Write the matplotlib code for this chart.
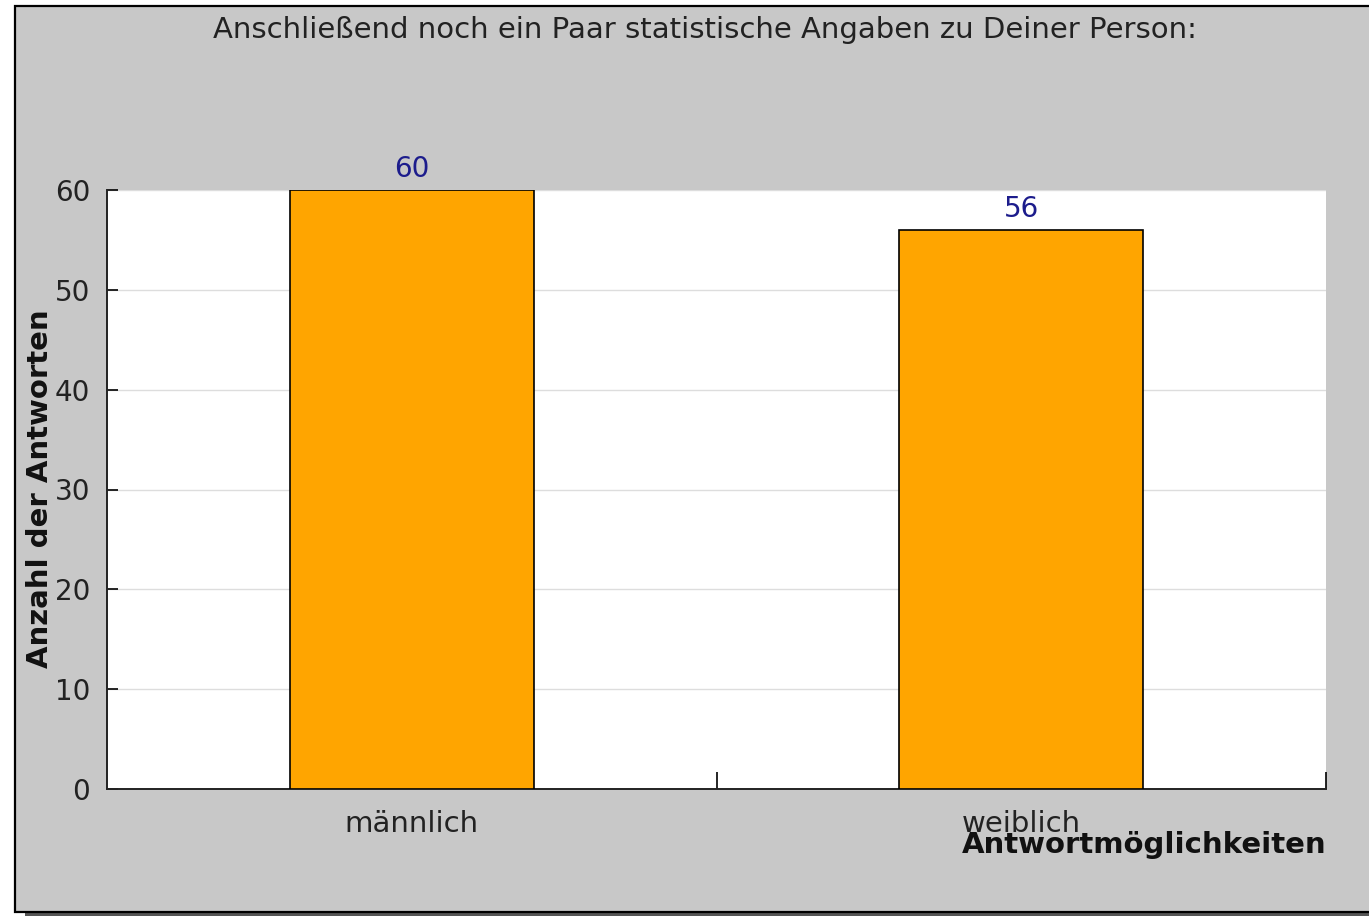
import matplotlib
matplotlib.use("Agg")
import matplotlib.pyplot as plt
from matplotlib.patches import Rectangle

# data
kategorien = ["männlich", "weiblich"]
anzahl = [60, 56]
yticks = [0, 10, 20, 30, 40, 50, 60]

titel = "Anschließend noch ein Paar statistische Angaben zu Deiner Person:"
ylabel = "Anzahl der Antworten"
xlabel = "Antwortmöglichkeiten"

W, H = 1369, 917
fs = 21
fig = plt.figure(figsize=(W / 100, H / 100), dpi=100)
fig.patch.set_facecolor("white")

# grey panel with black frame and a small shadow
fig.patches.append(Rectangle((25 / W, 1 - 916 / H), (W - 25) / W, 6 / H,
                             transform=fig.transFigure, facecolor="#555555",
                             edgecolor="none", zorder=-2))
fig.patches.append(Rectangle((14.5 / W, 1 - 912 / H), (W + 20) / W, 906 / H,
                             transform=fig.transFigure, facecolor="#c8c8c8",
                             edgecolor="black", linewidth=1.6, zorder=-1))

ax = fig.add_axes([107 / W, 1 - 789 / H, (1326 - 107) / W, (789 - 190) / H])
ax.set_facecolor("white")

x = list(range(len(kategorien)))
ax.bar(x, anzahl, width=0.4, color="#ffa500", edgecolor="black",
       linewidth=1.2, zorder=3)
for xi, v in zip(x, anzahl):
    ax.text(xi, v + 0.7, str(v), ha="center", va="bottom", color="#1c1c8c",
            fontsize=fs - 1, zorder=4)

ax.set_xlim(-0.5, len(kategorien) - 0.5)
ax.set_ylim(0, 60)
ax.set_yticks(yticks)
ax.set_xticks(x)
ax.set_xticklabels(kategorien)
ax.set_xticks([i + 0.5 for i in x], minor=True)
ax.tick_params(axis="x", which="major", length=0, pad=15, labelsize=fs,
               labelcolor="#222222")
ax.tick_params(axis="x", which="minor", direction="in", length=12, width=1.2)
ax.tick_params(axis="y", direction="in", length=8, width=1.2, pad=12,
               labelsize=fs - 1, labelcolor="#222222")
ax.grid(axis="y", color="#dddddd", linewidth=1, zorder=0)
ax.set_axisbelow(True)

for s in ["top", "right"]:
    ax.spines[s].set_visible(False)
for s in ["left", "bottom"]:
    ax.spines[s].set_linewidth(1.4)
    ax.spines[s].set_color("#222222")

fig.text(40 / W, 1 - 489 / H, ylabel, rotation=90, ha="center", va="center",
         fontsize=fs, fontweight="bold", color="#111111")
fig.text(1326 / W, 1 - 845 / H, xlabel, ha="right", va="center",
         fontsize=fs, fontweight="bold", color="#111111")
fig.text(705 / W, 1 - 30 / H, titel, ha="center", va="center", fontsize=fs,
         color="#222222")

fig.savefig("out.png", dpi=100, facecolor=fig.get_facecolor())
